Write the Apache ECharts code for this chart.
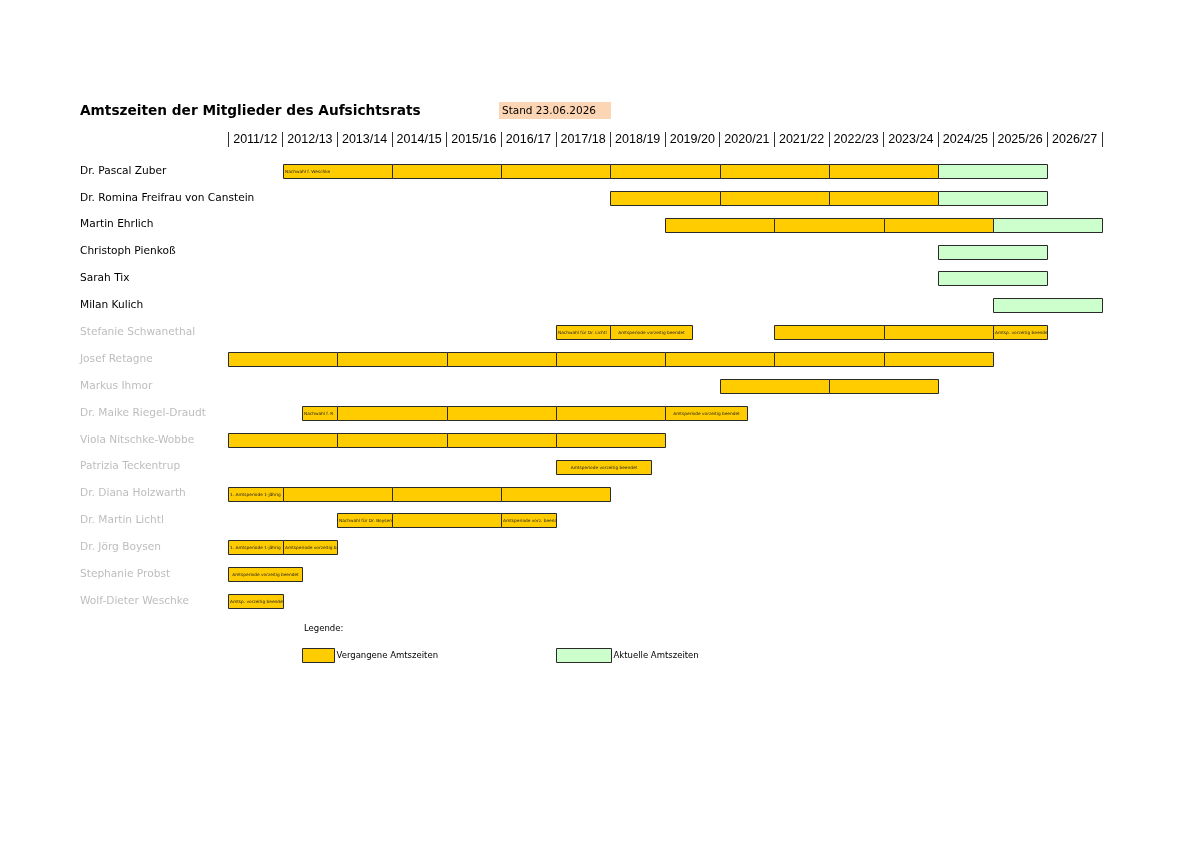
<!DOCTYPE html>
<html>
<head>
<meta charset="utf-8">
<script src="https://cdn.jsdelivr.net/npm/echarts@6/dist/echarts.min.js"></script>
<style>
html,body{margin:0;padding:0;background:#fff;}
#chart{width:1200px;height:848px;}
</style>
</head>
<body>
<div id="chart"></div>
<script>
// ---- data ----
const titleText = 'Amtszeiten der Mitglieder des Aufsichtsrats';
const standText = 'Stand 23.06.2026';
const years = ['2011/12','2012/13','2013/14','2014/15','2015/16','2016/17','2017/18','2018/19','2019/20','2020/21','2021/22','2022/23','2023/24','2024/25','2025/26','2026/27'];
const members = ['Dr. Pascal Zuber','Dr. Romina Freifrau von Canstein','Martin Ehrlich','Christoph Pienkoß','Sarah Tix','Milan Kulich','Stefanie Schwanethal','Josef Retagne','Markus Ihmor','Dr. Maike Riegel-Draudt','Viola Nitschke-Wobbe','Patrizia Teckentrup','Dr. Diana Holzwarth','Dr. Martin Lichtl','Dr. Jörg Boysen','Stephanie Probst','Wolf-Dieter Weschke'];
const memberIsCurrent = [true,true,true,true,true,true,false,false,false,false,false,false,false,false,false,false,false];
// [row, start (season index), end (season index), note, note alignment]
const pastTerms = [
  [0,1,3,'Nachwahl f. Weschke','left'],[0,3,5],[0,5,7],[0,7,9],[0,9,11],[0,11,13],
  [1,7,9],[1,9,11],[1,11,13],
  [2,8,10],[2,10,12],[2,12,14],
  [6,6,7,'Nachwahl für Dr. Lichtl','left'],[6,7,8.5,'Amtsperiode vorzeitig beendet','center'],[6,10,12],[6,12,14],[6,14,15,'Amtsp. vorzeitig beendet','left'],
  [7,0,2],[7,2,4],[7,4,6],[7,6,8],[7,8,10],[7,10,12],[7,12,14],
  [8,9,11],[8,11,13],
  [9,1.35,2,'Nachwahl f. R','left'],[9,2,4],[9,4,6],[9,6,8],[9,8,9.5,'Amtsperiode vorzeitig beendet','center'],
  [10,0,2],[10,2,4],[10,4,6],[10,6,8],
  [11,6,7.75,'Amtsperiode vorzeitig beendet','center'],
  [12,0,1,'1. Amtsperiode 1-jährig','left'],[12,1,3],[12,3,5],[12,5,7],
  [13,2,3,'Nachwahl für Dr. Boysen','left'],[13,3,5],[13,5,6,'Amtsperiode vorz. beendet','left'],
  [14,0,1,'1. Amtsperiode 1-jährig','left'],[14,1,2,'Amtsperiode vorzeitig beendet','left'],
  [15,0,1.35,'Amtsperiode vorzeitig beendet','center'],
  [16,0,1,'Amtsp. vorzeitig beendet','left']
];
const currentTerms = [
  [0,13,15],[1,13,15],[2,14,16],[3,13,15],[4,13,15],[5,14,16]
];
const legendPast = 'Vergangene Amtszeiten';
const legendCurrent = 'Aktuelle Amtszeiten';
const legendTitle = 'Legende:';

// ---- chart ----
const PAST_COLOR = '#ffcc00';
const CURRENT_COLOR = '#ccffcc';
const BORDER = '#2a2a2a';

function makeRender(source, color){
  return function(params, api){
    const row = api.value(2);
    const s = api.coord([api.value(0), row]);
    const e = api.coord([api.value(1), row]);
    const h = 14;
    const x = Math.round(s[0]) + 0.5;
    const y = Math.round(s[1] - h/2) + 0.5;
    const w = Math.round(e[0]) - Math.round(s[0]);
    const shape = {x:x, y:y, width:w, height:h};
    const children = [{type:'rect', shape:shape, style:{fill:color, stroke:BORDER, lineWidth:1}}];
    const item = source[params.dataIndex];
    if (item[3]) {
      const align = item[4] || 'left';
      children.push({
        type:'text',
        style:{
          text:item[3],
          x: align === 'left' ? x + 1.5 : x + w/2,
          y: y + h/2,
          align: align,
          verticalAlign:'middle',
          fontSize:4.3,
          fontFamily:'DejaVu Sans',
          fill:'#222'
        },
        clipPath:{type:'rect', shape:{x:x, y:y, width:w, height:h}}
      });
    }
    return {type:'group', children:children};
  };
}

const chart = echarts.init(document.getElementById('chart'), null, {renderer:'canvas'});
chart.setOption({
  backgroundColor:'#fff',
  animation:false,
  textStyle:{fontFamily:'DejaVu Sans'},
  title:[
    {text:titleText, left:80, top:103, padding:0,
     textStyle:{fontFamily:'DejaVu Sans', fontWeight:'bold', fontSize:13.7, lineHeight:16, color:'#000'}},
    {text:standText, left:499, top:102, padding:[3,15,2,3], backgroundColor:'#fcd5b4',
     textStyle:{fontFamily:'DejaVu Sans', fontWeight:'normal', fontSize:10.5, lineHeight:12, color:'#000'}},
    {text:legendTitle, left:304, top:624, padding:0,
     textStyle:{fontFamily:'DejaVu Sans', fontWeight:'normal', fontSize:8.5, lineHeight:10, color:'#000'}}
  ],
  legend:[
    {data:[legendPast], left:302, top:648, padding:0, itemWidth:32, itemHeight:14, icon:'rect',
     itemStyle:{borderColor:BORDER, borderWidth:1},
     textStyle:{fontFamily:'DejaVu Sans', fontSize:8.5, color:'#000', padding:[0,0,0,-3]}, selectedMode:false},
    {data:[legendCurrent], left:556, top:648, padding:0, itemWidth:55, itemHeight:14, icon:'rect',
     itemStyle:{borderColor:BORDER, borderWidth:1},
     textStyle:{fontFamily:'DejaVu Sans', fontSize:8.5, color:'#000', padding:[0,0,0,-3]}, selectedMode:false}
  ],
  grid:[
    {left:228, width:874, top:157.5, height:457, containLabel:false, outerBoundsMode:'none'},
    {left:228, width:874, top:132, height:15, containLabel:false, outerBoundsMode:'none'}
  ],
  xAxis:[
    {type:'value', gridIndex:0, min:0, max:16, show:false},
    {type:'category', gridIndex:1, position:'top', data:years, boundaryGap:true,
     axisLine:{show:false}, axisTick:{show:false},
     splitLine:{show:true, interval:0, lineStyle:{color:'#333', width:1}},
     axisLabel:{interval:0, margin:-8, verticalAlign:'middle', fontFamily:'Liberation Sans', fontSize:12.5, color:'#000'}}
  ],
  yAxis:[
    {type:'category', gridIndex:0, inverse:true,
     data:members.map((m,i)=>({value:m, textStyle:{align:'left', color: memberIsCurrent[i] ? '#000' : '#bdbdbd'}})),
     axisLine:{show:false}, axisTick:{show:false}, splitLine:{show:false},
     axisLabel:{align:'left', margin:148, padding:[2,0,0,0], fontFamily:'DejaVu Sans', fontSize:10.6}},
    {type:'value', gridIndex:1, show:false, min:0, max:1}
  ],
  series:[
    {name:legendPast, type:'custom', xAxisIndex:0, yAxisIndex:0,
     itemStyle:{color:PAST_COLOR, borderColor:BORDER, borderWidth:1},
     encode:{x:[0,1], y:2},
     data:pastTerms.map(t=>[t[1], t[2], t[0]]),
     renderItem:makeRender(pastTerms, PAST_COLOR)},
    {name:legendCurrent, type:'custom', xAxisIndex:0, yAxisIndex:0,
     itemStyle:{color:CURRENT_COLOR, borderColor:BORDER, borderWidth:1},
     encode:{x:[0,1], y:2},
     data:currentTerms.map(t=>[t[1], t[2], t[0]]),
     renderItem:makeRender(currentTerms, CURRENT_COLOR)}
  ]
});
</script>
</body>
</html>
